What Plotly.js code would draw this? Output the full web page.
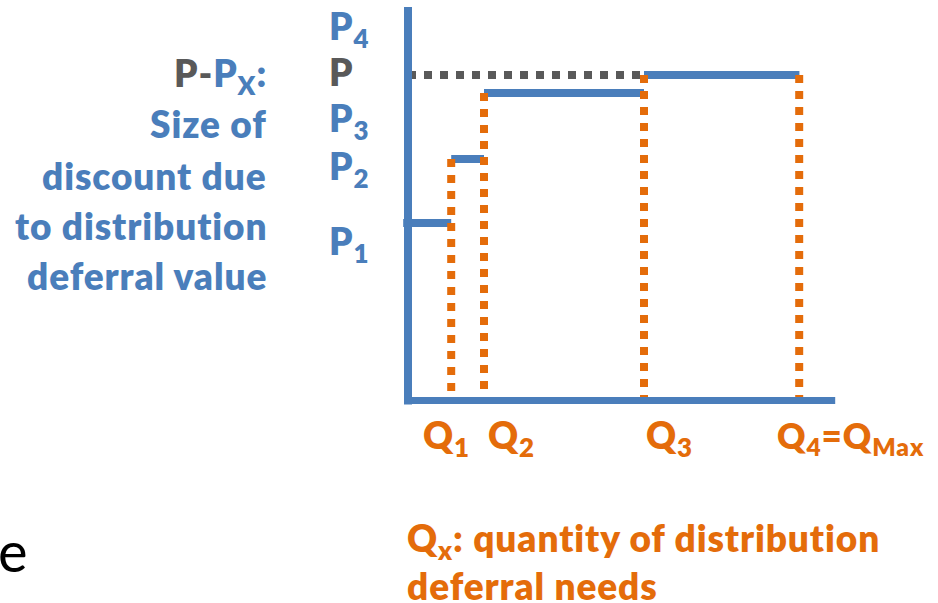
<!DOCTYPE html>
<html>
<head>
<meta charset="utf-8">
<script src="https://cdn.plot.ly/plotly-3.0.1.min.js"></script>
<style>
  html, body { margin: 0; padding: 0; background: #fff; }
  #chart { width: 938px; height: 603px; }
  svg text { font-variant-ligatures: none; font-feature-settings: "liga" 0, "clig" 0; letter-spacing: 0.9px; }
</style>
</head>
<body>
<div id="chart"></div>
<script>
// Data (axis units: quantity to the right, price upward)
const quantities = [1.08, 1.9, 5.9, 9.78];      // Q1..Q4
const prices = [4.44, 6.04, 7.69, 8.14];        // P1, P2, P3, P
const qAxisMax = 10.68;
const pAxisMax = 9.84;
const qLabels = ['Q<sub>1</sub>', 'Q<sub>2</sub>', 'Q<sub>3</sub>', 'Q<sub>4</sub>=Q<sub>Max</sub>'];
const pLabels = ['P<sub>4</sub>', 'P', 'P<sub>3</sub>', 'P<sub>2</sub>', 'P<sub>1</sub>'];
const leftLines = [
  '<span style="color:#595959">P-</span>P<sub>X</sub>:',
  'Size of',
  'discount due',
  'to distribution',
  'deferral value'
];

// Colours
const BLUE = '#4A7EBB';
const GREY = '#595959';
const ORANGE = '#E46C0A';

const W = 938, H = 603;
const FONT = 'Lato, "Open Sans", sans-serif';
const ASC = 0.987;

// text placed by its left/right edge and baseline in pixels
function label(text, x, base, anchor, color, size, weight) {
  return {
    xref: 'paper', yref: 'paper',
    x: x / W,
    y: 1 - (base - ASC * size - 2) / H,
    xanchor: anchor, yanchor: 'top',
    text: text, showarrow: false,
    font: {family: FONT, size: size, color: color, weight: weight || 800}
  };
}

const traces = [];

// grey dotted reference at P
traces.push({
  x: [0, quantities[3]], y: [prices[3], prices[3]],
  mode: 'lines', line: {color: GREY, width: 8, dash: '8px,8px'}
});

// blue price steps
const stepX = [], stepY = [];
for (let i = 0; i < quantities.length; i++) {
  const x0 = i === 0 ? -0.12 : quantities[i - 1];
  stepX.push(x0, quantities[i], null);
  stepY.push(prices[i], prices[i], null);
}
traces.push({
  x: stepX, y: stepY, mode: 'lines', connectgaps: false,
  line: {color: BLUE, width: 8}
});

// orange dotted quantity drops (from next step down to the axis)
quantities.forEach((q, i) => {
  const top = prices[Math.min(i + 1, prices.length - 1)];
  traces.push({
    x: [q, q], y: [top, 0],
    mode: 'lines', line: {color: ORANGE, width: 8, dash: '8px,8px'}
  });
});

// axes
traces.push({x: [0, 0], y: [pAxisMax, -0.1], mode: 'lines', line: {color: BLUE, width: 8}});
traces.push({x: [-0.075, qAxisMax], y: [0, 0], mode: 'lines', line: {color: BLUE, width: 7}});

// labels
const annotations = [];
const leftBase = [87, 138, 190, 240, 290];
leftLines.forEach((t, i) => annotations.push(label(t, 269, leftBase[i], 'right', BLUE, 37)));

const pBase = [40, 86, 132, 180, 255];
pLabels.forEach((t, i) => annotations.push(label(t, 327, pBase[i], 'left', i === 1 ? GREY : BLUE, 37)));

const qLeft = [421, 486, 644, 775];
qLabels.forEach((t, i) => annotations.push(label(t, qLeft[i], 449, 'left', ORANGE, i === 3 ? 35 : 37)));

annotations.push(label('Q<sub>x</sub>: quantity of distribution', 405, 552, 'left', ORANGE, 37));
annotations.push(label('deferral needs', 405, 600, 'left', ORANGE, 37));
annotations.push(label('e', -4, 572, 'left', '#000000', 56, 'normal'));

const layout = {
  width: W, height: H,
  margin: {l: 0, r: 0, t: 0, b: 0},
  paper_bgcolor: '#ffffff', plot_bgcolor: '#ffffff',
  showlegend: false,
  xaxis: {range: [-408 / 40, (W - 408) / 40], visible: false, fixedrange: true},
  yaxis: {range: [-(H - 400.5) / 40, 400.5 / 40], visible: false, fixedrange: true},
  annotations: annotations,
  hovermode: false
};

Plotly.newPlot('chart', traces, layout, {displayModeBar: false, staticPlot: true});
</script>
</body>
</html>
